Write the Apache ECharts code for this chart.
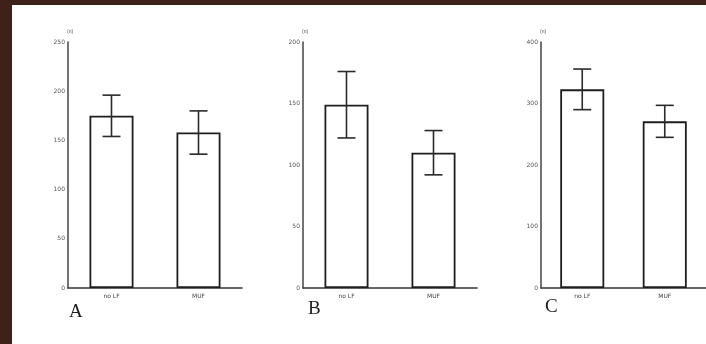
<!DOCTYPE html>
<html>
<head>
<meta charset="utf-8">
<script src="https://cdn.jsdelivr.net/npm/echarts@6/dist/echarts.min.js"></script>
<style>
  html, body { margin: 0; padding: 0; }
  body { width: 706px; height: 344px; background: #3e2118; position: relative; overflow: hidden; }
  #sheet { position: absolute; left: 12px; top: 5px; right: 0; bottom: 0; background: #ffffff; }
  #chart { position: absolute; left: 0; top: 0; width: 706px; height: 344px; }
</style>
</head>
<body>
<div id="sheet"></div>
<div id="chart"></div>
<script>
// Groups compared in every panel
const categories = ['no LF', 'MUF'];

// Panel A
const meanA = [175, 158];
const errA = [21, 22];
// Panel B
const meanB = [149, 110];
const errB = [27, 18];
// Panel C
const meanC = [323, 271];
const errC = [33, 26];

const panelLetters = ['A', 'B', 'C'];
const axisMax = [250, 200, 400];
const axisStep = [50, 50, 100];
const unitLabel = '(n)';

const means = [meanA, meanB, meanC];
const errs = [errA, errB, errC];

const gridLeft = [68, 303, 541];
const letterPos = [[76, 313], [315, 310], [552, 308]];

const chart = echarts.init(document.getElementById('chart'), null, { renderer: 'canvas' });

const grids = [], xAxes = [], yAxes = [], series = [], graphics = [];

for (let p = 0; p < 3; p++) {
  grids.push({ left: gridLeft[p], top: 42, width: 174, height: 246 });
  xAxes.push({
    type: 'category', gridIndex: p, data: categories,
    axisLine: { show: true, lineStyle: { color: '#333', width: 1.6 } },
    axisTick: { show: false },
    axisLabel: { color: '#444', fontSize: 6, margin: 5, fontFamily: 'DejaVu Sans' }
  });
  yAxes.push({
    type: 'value', gridIndex: p, min: 0, max: axisMax[p], interval: axisStep[p],
    name: unitLabel, nameLocation: 'end', nameGap: 8,
    nameTextStyle: { color: '#555', fontSize: 5, align: 'left', padding: [0, 0, 0, -1] },
    axisLine: { show: true, lineStyle: { color: '#444', width: 1.5 } },
    axisTick: { show: false },
    splitLine: { show: false },
    axisLabel: { color: '#555', fontSize: 6, margin: 3, fontFamily: 'DejaVu Sans' }
  });
  series.push({
    type: 'bar', xAxisIndex: p, yAxisIndex: p, barWidth: 44,
    data: means[p],
    itemStyle: { color: '#ffffff', borderColor: '#1e1e1e', borderWidth: 1.8 },
    silent: true, animation: false
  });
  series.push({
    type: 'custom', xAxisIndex: p, yAxisIndex: p,
    data: means[p].map((m, i) => [i, m - errs[p][i], m + errs[p][i]]),
    renderItem: function (params, api) {
      const lo = api.coord([api.value(0), api.value(1)]);
      const hi = api.coord([api.value(0), api.value(2)]);
      const cap = 9;
      const style = { stroke: '#2a2a2a', lineWidth: 1.6 };
      return {
        type: 'group',
        children: [
          { type: 'line', shape: { x1: hi[0], y1: hi[1], x2: lo[0], y2: lo[1] }, style },
          { type: 'line', shape: { x1: hi[0] - cap, y1: hi[1], x2: hi[0] + cap, y2: hi[1] }, style },
          { type: 'line', shape: { x1: lo[0] - cap, y1: lo[1], x2: lo[0] + cap, y2: lo[1] }, style }
        ]
      };
    },
    z: 5, silent: true, animation: false
  });
  graphics.push({
    type: 'text', left: letterPos[p][0] - 7, top: letterPos[p][1] - 10,
    style: { text: panelLetters[p], font: '19px "Liberation Serif"', fill: '#1e1e1e' }
  });
}

chart.setOption({
  backgroundColor: 'transparent',
  animation: false,
  grid: grids,
  xAxis: xAxes,
  yAxis: yAxes,
  series: series,
  graphic: graphics
});
</script>
</body>
</html>
